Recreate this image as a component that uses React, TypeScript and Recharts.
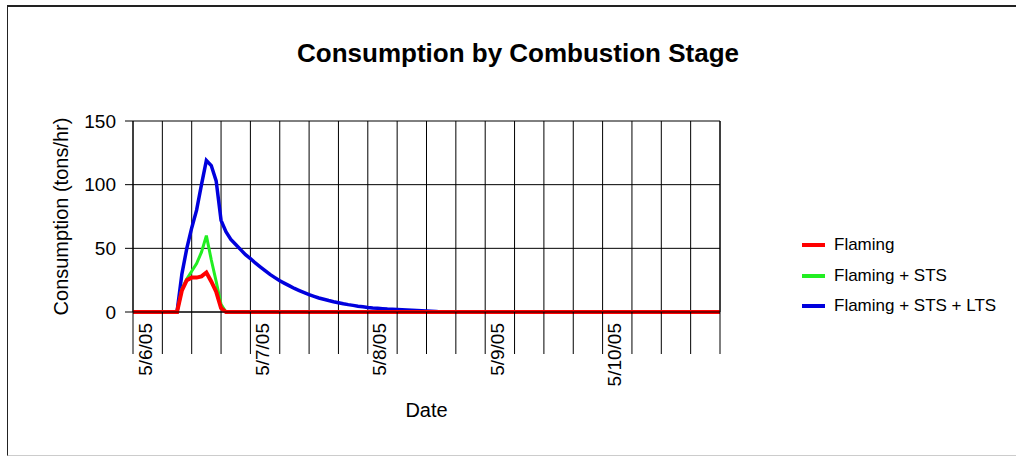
import { LineChart, Line, XAxis, YAxis, CartesianGrid } from "recharts";

// hours after 5/6/05 00:00
const HOUR_TICKS = [0, 6, 12, 18, 24, 30, 36, 42, 48, 54, 60, 66, 72, 78, 84, 90, 96, 102, 108, 114, 120];
const DATE_LABELS: Record<number, string> = { 0: "5/6/05", 24: "5/7/05", 48: "5/8/05", 72: "5/9/05", 96: "5/10/05" };
const Y_TICKS = [0, 50, 100, 150];

const flamingHours = [0, 9, 10, 11, 12, 13, 14, 15, 16, 17, 18, 19, 120];
const flaming = [0, 0, 17, 25, 27, 27, 28, 31, 24, 16, 3, 0, 0];

const stsHours = [0, 9, 10, 11, 12, 13, 14, 15, 16, 17, 18, 19, 120];
const sts = [0, 0, 18, 26, 32, 38, 47, 60, 41, 24, 6, 0, 0];

const ltsHours = [
  0, 9, 10, 11, 12, 13, 14, 15, 16, 17, 18, 19, 20, 21, 22, 23, 24, 25, 26, 27, 28, 29, 30, 31, 32, 33, 34, 35,
  36, 37, 38, 39, 40, 41, 42, 43, 44, 45, 46, 47, 48, 49, 50, 51, 52, 53, 54, 55, 56, 57, 58, 59, 60, 61, 62, 63,
  64, 120,
];
const lts = [
  0, 0, 30, 50, 66, 80, 100, 119, 115, 103, 72, 63, 57, 53, 49, 45, 42, 38.5, 35.5, 32.5, 29.5, 27, 24.5, 22.5,
  20.5, 18.5, 16.8, 15.2, 13.6, 12.3, 11, 10, 9, 8.1, 7.3, 6.5, 5.8, 5.2, 4.6, 4.1, 3.6, 3.2, 2.9, 2.6, 2.3, 2.1,
  1.9, 1.7, 1.5, 1.3, 1.1, 0.9, 0.7, 0.5, 0.3, 0.1, 0, 0,
];

const toRows = (hours: number[], vals: number[]) => hours.map((h, i) => ({ h, v: vals[i] }));

const SERIES = [
  { name: "Flaming + STS + LTS", color: "#0000dd", width: 3.5, data: toRows(ltsHours, lts) },
  { name: "Flaming + STS", color: "#22ee22", width: 3, data: toRows(stsHours, sts) },
  { name: "Flaming", color: "#ff0000", width: 4, data: toRows(flamingHours, flaming) },
];
const LEGEND_ORDER = ["Flaming", "Flaming + STS", "Flaming + STS + LTS"];

const FONT = '"Liberation Sans", Arial, sans-serif';

function DateTick({ x, y, payload }: any) {
  const label = DATE_LABELS[payload.value];
  if (!label) return null;
  const tx = x + 12;
  const ty = y - 31;
  return (
    <text
      x={tx}
      y={ty}
      transform={`rotate(-90, ${tx}, ${ty})`}
      textAnchor="end"
      dominantBaseline="central"
      fontSize={19}
      fontFamily={FONT}
      fill="#000"
    >
      {label}
    </text>
  );
}

export default function App() {
  return (
    <div style={{ position: "absolute", left: 0, top: 0, width: 1016, height: 459, background: "#fff", fontFamily: FONT }}>
      <div
        style={{
          position: "absolute",
          left: 7,
          top: 5,
          width: 1009,
          height: 448,
          borderTop: "2px solid #222",
          borderLeft: "1px solid #222",
          borderBottom: "1px solid #ccc",
        }}
      />
      <div style={{ position: "absolute", left: 20, top: 38, width: 996, textAlign: "center", fontSize: 26, fontWeight: "bold", color: "#000" }}>
        Consumption by Combustion Stage
      </div>
      <LineChart width={1016} height={459} margin={{ top: 121, right: 0, bottom: 0, left: 0 }} style={{ position: "absolute", left: 0, top: 0 }}>
        <CartesianGrid yAxisId="left" stroke="#000" strokeWidth={1} />
        <XAxis
          dataKey="h"
          type="number"
          domain={[0, 120]}
          ticks={HOUR_TICKS}
          interval={0}
          height={147}
          tickSize={42}
          tickMargin={0}
          tick={<DateTick />}
          tickLine={{ stroke: "#000" }}
          axisLine={{ stroke: "#000" }}
          allowDuplicatedCategory={false}
          label={(p: any) => (
            <text
              x={p.viewBox.x + p.viewBox.width / 2}
              y={p.viewBox.y + 98}
              textAnchor="middle"
              dominantBaseline="central"
              fontSize={20}
              fontFamily={FONT}
              fill="#000"
            >
              Date
            </text>
          )}
        />
        <YAxis
          yAxisId="left"
          domain={[0, 150]}
          ticks={Y_TICKS}
          width={133}
          tickSize={8}
          tickMargin={9}
          tick={{ fontSize: 19, fill: "#000", fontFamily: FONT }}
          tickLine={{ stroke: "#000" }}
          axisLine={{ stroke: "#000" }}
          label={(p: any) => {
            const cx = 61;
            const cy = p.viewBox.y + p.viewBox.height / 2;
            return (
              <text
                x={cx}
                y={cy}
                transform={`rotate(-90, ${cx}, ${cy})`}
                textAnchor="middle"
                dominantBaseline="central"
                fontSize={20}
                fontFamily={FONT}
                fill="#000"
              >
                Consumption (tons/hr)
              </text>
            );
          }}
        />
        <YAxis
          yAxisId="right"
          orientation="right"
          domain={[0, 150]}
          ticks={Y_TICKS}
          width={296}
          tickSize={8}
          tickMargin={12}
          tick={{ fontSize: 19, fill: "#000", fontFamily: FONT, textAnchor: "start" }}
          tickLine={{ stroke: "#000" }}
          axisLine={{ stroke: "#000" }}
        />
        {SERIES.map((s) => (
          <Line
            key={s.name}
            yAxisId="left"
            data={s.data}
            dataKey="v"
            name={s.name}
            type="linear"
            stroke={s.color}
            strokeWidth={s.width}
            dot={false}
            activeDot={false}
            isAnimationActive={false}
          />
        ))}
      </LineChart>
      <div style={{ position: "absolute", left: 802, top: 230 }}>
        {LEGEND_ORDER.map((n) => {
          const s = SERIES.find((q) => q.name === n)!;
          return (
            <div key={n} style={{ display: "flex", alignItems: "center", height: 30.5, fontSize: 17, color: "#000" }}>
              <span style={{ display: "inline-block", width: 23, height: 4, background: s.color, marginRight: 9 }} />
              {n}
            </div>
          );
        })}
      </div>
    </div>
  );
}
